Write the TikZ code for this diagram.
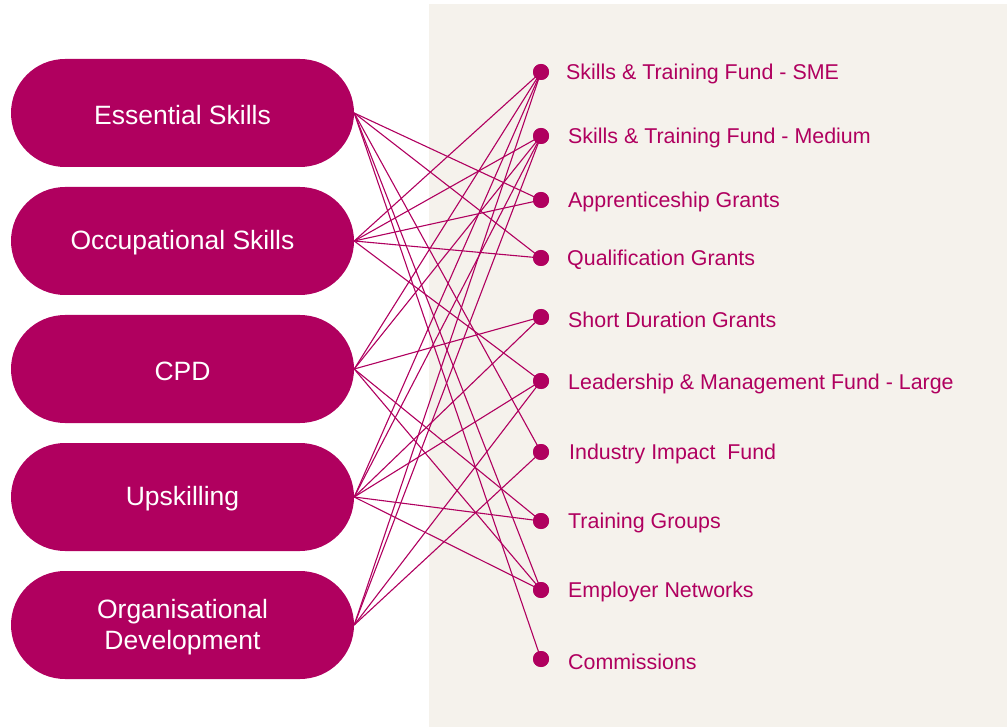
\documentclass[tikz,border=0pt]{standalone}
\usepackage{fontspec}
\setmainfont{Liberation Sans}
\definecolor{berry}{HTML}{B0005F}
\definecolor{panel}{HTML}{F5F2EC}
\begin{document}
\begin{tikzpicture}[x=1pt,y=-1pt,
  pill/.style={draw=none,fill=berry,rounded corners=54pt,minimum width=343pt,minimum height=108pt,
    text=white,font=\fontsize{26.5}{31}\selectfont,align=center,inner sep=0pt},
  fund/.style={circle,fill=berry,inner sep=0pt,minimum size=16pt},
  fundlabel/.style={anchor=west,text=berry,font=\fontsize{21.4}{25}\selectfont,inner sep=0pt,yshift=-1.5pt},
  link/.style={draw=berry,line width=1.1pt}]
\useasboundingbox (0,0) rectangle (1007,727);
\fill[panel] (429,4) rectangle (1007,727);

% programme areas
\node[pill] (es) at (182.5,113) {};
\node[pill] (os) at (182.5,241) {};
\node[pill] (cpd) at (182.5,369) {};
\node[pill] (up) at (182.5,497) {};
\node[pill] (od) at (182.5,625) {};
\node[pill,fill=none,minimum size=0pt] (est) at (182.5,115) {Essential Skills};
\node[pill,fill=none,minimum size=0pt] (ost) at (182.5,243) {Occupational Skills};
\node[pill,fill=none,minimum size=0pt] (cpdt) at (182.5,371) {CPD};
\node[pill,fill=none,minimum size=0pt] (upt) at (182.5,499) {Upskilling};
\node[pill,fill=none,minimum size=0pt] (odt) at (182.5,627) {Organisational\\Development};

% funding streams
\node[fund] (f1) at (541,72) {};
\node[fund] (f2) at (541,136) {};
\node[fund] (f3) at (541,200) {};
\node[fund] (f4) at (541,258) {};
\node[fund] (f5) at (541,317) {};
\node[fund] (f6) at (541,381) {};
\node[fund] (f7) at (541,452) {};
\node[fund] (f8) at (541,521) {};
\node[fund] (f9) at (541,590) {};
\node[fund] (f10) at (541,659) {};

\node[fundlabel] (l1) at (566,72) {Skills \& Training Fund - SME};
\node[fundlabel] (l2) at (568,136) {Skills \& Training Fund - Medium};
\node[fundlabel] (l3) at (568,200) {Apprenticeship Grants};
\node[fundlabel] (l4) at (567,258) {Qualification Grants};
\node[fundlabel] (l5) at (568,318) {Short Duration Grants};
\node[fundlabel] (l6) at (568,382) {Leadership \& Management Fund - Large};
\node[fundlabel] (l7) at (569,452) {Industry Impact\ \ Fund};
\node[fundlabel] (l8) at (568,521) {Training Groups};
\node[fundlabel] (l9) at (568,590) {Employer Networks};
\node[fundlabel] (l10) at (568,660) {Commissions};

% links from each programme area to its funding streams
\foreach \t in {f3,f4,f7,f9,f10} \draw[link] (es.east) -- (\t.center);
\foreach \t in {f1,f2,f3,f4,f6} \draw[link] (os.east) -- (\t.center);
\foreach \t in {f1,f2,f5,f8,f9} \draw[link] (cpd.east) -- (\t.center);
\foreach \t in {f1,f2,f5,f6,f8,f9} \draw[link] (up.east) -- (\t.center);
\foreach \t in {f1,f2,f6,f7} \draw[link] (od.east) -- (\t.center);

% redraw dots over the line ends
\foreach \t in {f1,f2,f3,f4,f5,f6,f7,f8,f9,f10} \fill[berry] (\t.center) circle (8pt);
\end{tikzpicture}
\end{document}
